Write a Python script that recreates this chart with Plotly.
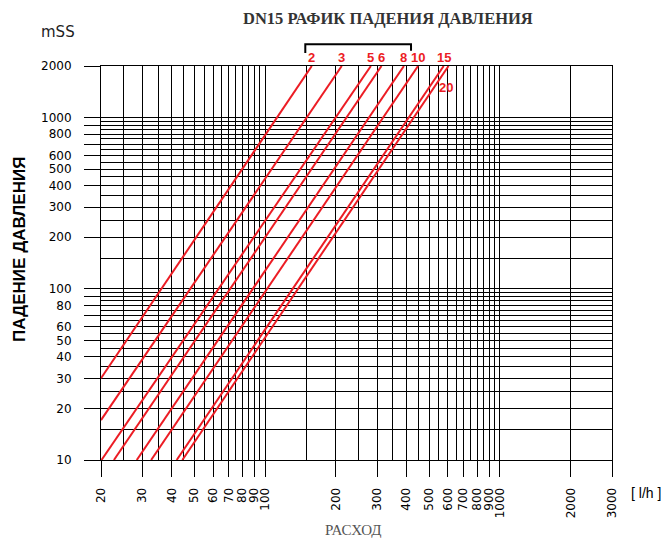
import math
import plotly.graph_objects as go

# ---- data ----
setting_labels = ["2", "3", "5", "6", "8", "10", "15", "20"]
flow_start = [20, 20, 20.1, 22.7, 28.4, 32.7, 42.0, 44.4]      # l/h
drop_start = [30, 17.1, 10, 10, 10, 10, 10, 10]                  # mSS
flow_end = [158, 212, 282, 313, 390, 448, 576, 604]              # l/h
drop_end = [2000, 2000, 2000, 2000, 2000, 2000, 2000, 2000]      # mSS

x_major = [20, 30, 40, 50, 60, 70, 80, 90, 100, 200, 300, 400, 500, 600, 700, 800, 900, 1000, 2000, 3000]
x_major_text = ["20", "30", "40", "50", "60", "70", "80", "90", "100", "200", "300", "400", "500",
                "600", "700", "800", "900", "1000", "2000", "3000"]
x_minor = [25, 35, 45, 55, 65, 75, 85, 95, 150, 250, 350, 450, 550, 650, 750, 850, 950]

y_major = [10, 20, 30, 40, 50, 60, 70, 80, 90, 100, 200, 300, 400, 500, 600, 700, 800, 900, 1000, 2000]
y_major_text = ["10", "20", "30", "40", "50", "60", "", "80", "", "100", "200", "300", "400", "500",
                "600", "", "800", "", "1000", "2000"]
y_minor = [15, 25, 35, 45, 55, 65, 75, 85, 95, 150, 250, 350, 450, 550, 650, 750, 850, 950]

label20_pos = (590, 1489)

RED = "#ec1c24"

fig = go.Figure()
for i, lab in enumerate(setting_labels):
    fig.add_trace(go.Scatter(
        x=[flow_start[i], flow_end[i]], y=[drop_start[i], drop_end[i]],
        mode="lines", line=dict(color=RED, width=2), name=lab,
        showlegend=False, hoverinfo="skip", cliponaxis=True))

axis_common = dict(
    type="log", showgrid=True, gridcolor="#000000", gridwidth=1,
    showline=True, linecolor="#000000", linewidth=1, mirror=True,
    ticks="outside", ticklen=16, tickcolor="#000000", tickwidth=1,
    tickmode="array", zeroline=False,
    tickfont=dict(family="DejaVu Sans", size=12, color="#000000"),
)

fig.update_xaxes(
    **axis_common,
    range=[math.log10(20), math.log10(3000)],
    tickvals=x_major, ticktext=x_major_text, tickangle=-90,
    ticklabelstandoff=6,
    minor=dict(tickmode="array", tickvals=x_minor, showgrid=True,
               gridcolor="#000000", gridwidth=1, ticks=""),
)
fig.update_yaxes(
    **axis_common,
    range=[1, math.log10(2000)],
    tickvals=y_major, ticktext=y_major_text,
    ticklabelstandoff=10,
    minor=dict(tickmode="array", tickvals=y_minor, showgrid=True,
               gridcolor="#000000", gridwidth=1, ticks=""),
)

ann = []
# setting labels above the plot
for i, lab in enumerate(setting_labels[:-1]):
    ann.append(dict(x=math.log10(flow_end[i]), y=1, xref="x", yref="paper",
                    yshift=9, text="<b>%s</b>" % lab, showarrow=False,
                    xanchor="center", yanchor="middle",
                    font=dict(family="Liberation Sans", size=13, color=RED)))
ann.append(dict(x=math.log10(label20_pos[0]), y=math.log10(label20_pos[1]), xref="x", yref="y",
                text="<b>%s</b>" % setting_labels[-1], showarrow=False,
                xanchor="center", yanchor="middle",
                font=dict(family="Liberation Sans", size=13, color=RED)))
# title and axis texts
ann.append(dict(x=0.5616, y=1.1193, xref="paper", yref="paper",
                text="<b>DN15 РАФИК ПАДЕНИЯ ДАВЛЕНИЯ</b>", showarrow=False,
                xanchor="center", yanchor="middle",
                font=dict(family="Liberation Serif", size=16.5, color="#333333")))
ann.append(dict(x=-0.0841, y=1.0863, xref="paper", yref="paper", text="mSS",
                showarrow=False, xanchor="center", yanchor="middle",
                font=dict(family="DejaVu Sans", size=15, color="#222222")))
ann.append(dict(x=0.4932, y=-0.1777, xref="paper", yref="paper", text="РАСХОД",
                showarrow=False, xanchor="center", yanchor="middle",
                font=dict(family="Liberation Serif", size=15, color="#555555")))
ann.append(dict(x=1.0665, y=-0.0838, xref="paper", yref="paper", text="[ l/h ]",
                showarrow=False, xanchor="center", yanchor="middle",
                font=dict(family="Liberation Sans", size=14, color="#000000")))
ann.append(dict(x=-0.1585, y=0.533, xref="paper", yref="paper",
                text="<b>ПАДЕНИЕ ДАВЛЕНИЯ</b>", showarrow=False, textangle=-90,
                xanchor="center", yanchor="middle",
                font=dict(family="Liberation Sans", size=17, color="#000000")))

shapes = [dict(type="path", xref="paper", yref="paper",
               path="M 0.3998,1.033 L 0.3998,1.0551 L 0.6067,1.0551 L 0.6067,1.0388",
               line=dict(color="#000000", width=2))]

# the page body adds an 8px margin, so the figure is 8px smaller
fig.update_layout(
    width=661, height=531,
    margin=dict(l=93, r=57, t=58, b=79),
    paper_bgcolor="white", plot_bgcolor="white",
    annotations=ann, shapes=shapes, showlegend=False,
)

fig.write_html("out.html")
